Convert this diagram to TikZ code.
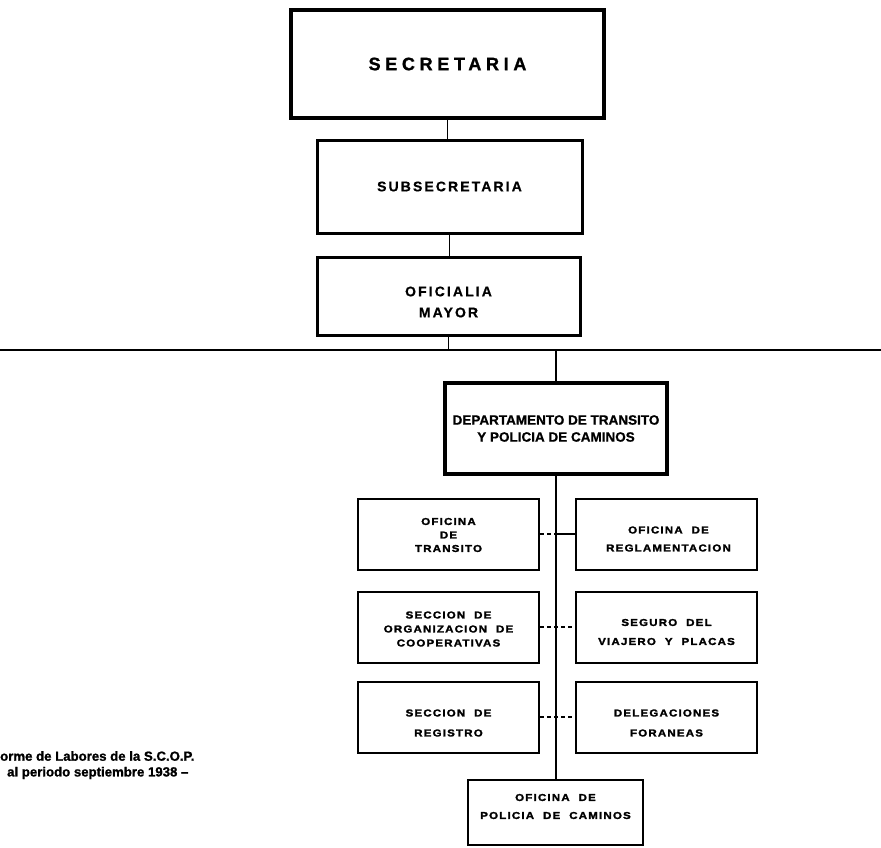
\documentclass[tikz,border=0pt]{standalone}
\usepackage{fontspec}
\setmainfont{Liberation Sans}
\newfontfamily\secfont[LetterSpace=26,FakeBold=1.2]{Liberation Sans}
\newfontfamily\subfont[LetterSpace=15,FakeBold=0.6]{Liberation Sans}
\newfontfamily\deptfont[FakeBold=0.8]{Liberation Sans}
\newfontfamily\unitfont[LetterSpace=12,FakeStretch=1.15,FakeBold=2]{Liberation Sans}
\newfontfamily\notefont[FakeBold=1.2]{Liberation Sans}
\newcommand{\gap}{\hspace{9pt}}
\begin{document}
\begin{tikzpicture}[x=1pt,y=-1pt,
  box/.style={draw=black, fill=white, rectangle, inner sep=0pt, align=center},
  topbox/.style={box, line width=4.5pt, font=\secfont\bfseries\fontsize{18}{20}\selectfont},
  midbox/.style={box, line width=3pt},
  midtext/.style={inner sep=0pt, align=center, font=\subfont\bfseries\fontsize{14}{21}\selectfont},
  deptbox/.style={box, line width=3.5pt, font=\deptfont\bfseries\fontsize{13.5}{17}\selectfont},
  unitbox/.style={box, line width=2pt, minimum width=181pt, minimum height=71pt},
  unittext/.style={inner sep=0pt, align=center, font=\unitfont\bfseries\fontsize{10}{14}\selectfont},
  link/.style={line width=1.2pt},
  dashlink/.style={line width=1.2pt, dash pattern=on 4pt off 3pt},
  rule/.style={line width=2pt},
  note/.style={anchor=west, inner sep=0pt, font=\notefont\bfseries\fontsize{13.2}{15}\selectfont}
]
\useasboundingbox[fill=white] (0,0) rectangle (881,847);

% upper hierarchy
\node[topbox, minimum width=313pt, minimum height=108pt] (sec) at (447.5,64) {SECRETARIA};
\node[midbox, minimum width=265pt, minimum height=93pt] (sub) at (449.5,186.5) {};
\node[midtext] (sub-t) at (sub.center) {SUBSECRETARIA};
\node[midbox, minimum width=263pt, minimum height=78pt] (ofm) at (448.5,296) {};
\node[midtext, yshift=-6pt] (ofm-t) at (ofm.center) {OFICIALIA\\MAYOR};

% dividing rule across the page
\coordinate (hlw) at (0,350);
\coordinate (hle) at (881,350);
\draw[rule] (hlw) -- (hle);

% department and its units
\node[deptbox, minimum width=222pt, minimum height=91pt] (dept) at (556,428.5)
  {DEPARTAMENTO DE TRANSITO\\Y POLICIA DE CAMINOS};

\node[unitbox] (r1l) at (448.5,534) {};
\node[unitbox] (r1r) at (666.5,534) {};
\node[unitbox] (r2l) at (448.5,627) {};
\node[unitbox] (r2r) at (666.5,627) {};
\node[unitbox] (r3l) at (448.5,717) {};
\node[unitbox] (r3r) at (666.5,717) {};
\node[unitbox, minimum width=175pt, minimum height=65pt] (bot) at (555.5,812.5) {};

\node[unittext, yshift=-1pt] (r1l-t) at (r1l.center) {OFICINA\\[-0.5pt]DE\\[-0.5pt]TRANSITO};
\node[unittext, xshift=2pt, yshift=-5pt] (r1r-t) at (r1r.center) {OFICINA\gap DE\\[4pt]REGLAMENTACION};
\node[unittext, yshift=-2pt] (r2l-t) at (r2l.center) {SECCION\gap DE\\ORGANIZACION\gap DE\\COOPERATIVAS};
\node[unittext, yshift=-5pt] (r2r-t) at (r2r.center) {SEGURO\gap DEL\\[5pt]VIAJERO\gap Y\gap PLACAS};
\node[unittext, yshift=-6pt] (r3l-t) at (r3l.center) {SECCION\gap DE\\[6pt]REGISTRO};
\node[unittext, yshift=-6pt] (r3r-t) at (r3r.center) {DELEGACIONES\\[6pt]FORANEAS};
\node[unittext, yshift=6pt] (bot-t) at (bot.center) {OFICINA\gap DE\\[4pt]POLICIA\gap DE\gap CAMINOS};

% connectors
\draw[link] (sec.south) -- (sec.south |- sub.north);
\draw[link] (sub.south) -- (sub.south |- ofm.north);
\draw[link] (ofm.south) -- (ofm.south |- hlw);
\draw[link] (dept.north |- hlw) -- (dept.north);
\draw[link] (dept.south) -- (dept.south |- bot.north);

\draw[dashlink] (r1l.east) -- (r1l.east -| dept.south);
\draw[link] (r1r.west -| dept.south) -- (r1r.west);
\draw[dashlink] (r2l.east) -- (r2l.east -| dept.south) -- (r2r.west);
\draw[dashlink] (r3l.east) -- (r3l.east -| dept.south) -- (r3r.west);

% source note
\node[note] (src1) at (0,756) {orme de Labores de la S.C.O.P.};
\node[note] (src2) at (7,773) {al periodo septiembre 1938 –};
\end{tikzpicture}
\end{document}
